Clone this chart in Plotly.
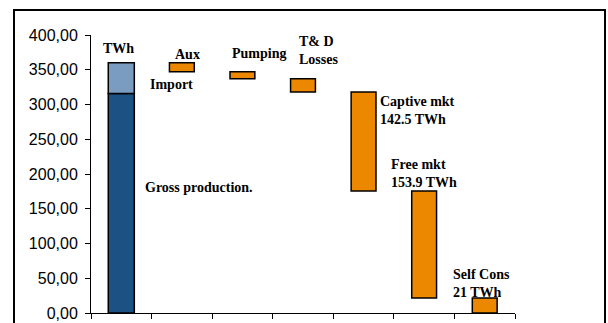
import plotly.graph_objects as go

categories = ["Gross", "Aux", "Pumping", "T&D Losses", "Captive mkt", "Free mkt", "Self Cons"]
gross_production = 316.0
imports = 44.0
aux = 13.0
pumping = 10.0
td_losses = 19.0
captive_mkt = 142.5
free_mkt = 153.9
self_cons = 21.6
y_tick_values = [0, 50, 100, 150, 200, 250, 300, 350, 400]

total = gross_production + imports
steps = [aux, pumping, td_losses, captive_mkt, free_mkt, self_cons]
bases = []
level = total
for s in steps:
    level -= s
    bases.append(level)

fig = go.Figure()
outline = dict(color="black", width=1.5)
fig.add_trace(go.Bar(x=[categories[0]], y=[gross_production], base=[0],
                     marker=dict(color="#1C5283", line=outline), width=0.43))
fig.add_trace(go.Bar(x=[categories[0]], y=[imports], base=[gross_production],
                     marker=dict(color="#7A9CC0", line=outline), width=0.43))
fig.add_trace(go.Bar(x=categories[1:], y=steps, base=bases,
                     marker=dict(color="#EC8700", line=outline), width=0.41))

serif = dict(family="Liberation Serif", size=14, color="black", weight="bold")
notes = [
    ("TWh", -0.054, 381, "center"),
    ("Aux", 1.10, 372, "center"),
    ("Import", 0.837, 329.5, "center"),
    ("Pumping", 2.27, 374, "center"),
    ("T& D<br>Losses", 2.90, 377, "left"),
    ("Captive mkt<br>142.5 TWh", 4.24, 291, "left"),
    ("Free mkt<br>153.9 TWh", 4.42, 201, "left"),
    ("Self Cons<br>21 TWh", 5.45, 42.4, "left"),
    ("Gross production.", 0.36, 180, "left"),
]
for text, x, y, anchor in notes:
    fig.add_annotation(x=x, y=y, text=text, showarrow=False, xanchor=anchor,
                       yanchor="middle", align="left", font=serif)

fig.add_shape(type="rect", xref="paper", yref="paper",
              x0=-0.1816, x1=1.2123, y0=-0.2, y1=1.0899,
              line=dict(color="black", width=2), fillcolor="rgba(0,0,0,0)", layer="above")

fig.update_layout(
    width=608, height=323,
    margin=dict(l=91, r=93, t=35, b=10),
    paper_bgcolor="white", plot_bgcolor="white",
    showlegend=False, barmode="overlay",
    separators=",.",
    xaxis=dict(type="category", categoryorder="array", categoryarray=categories,
               range=[-0.5, 6.5], showticklabels=False, ticks="outside",
               tickson="boundaries", ticklen=5, tickcolor="black", automargin=False,
               showline=True, linecolor="black", linewidth=1, showgrid=False),
    yaxis=dict(range=[0, 400], tickvals=y_tick_values, tickformat=".2f",
               ticks="outside", ticklen=5, tickcolor="black", automargin=False,
               ticklabelstandoff=4,
               showline=True, linecolor="black", linewidth=1, showgrid=False,
               zeroline=False,
               tickfont=dict(family="Liberation Sans", size=16, color="black")),
)

fig.write_html("out.html", config={"displayModeBar": False},
               post_script="document.body.style.margin='0px';")
